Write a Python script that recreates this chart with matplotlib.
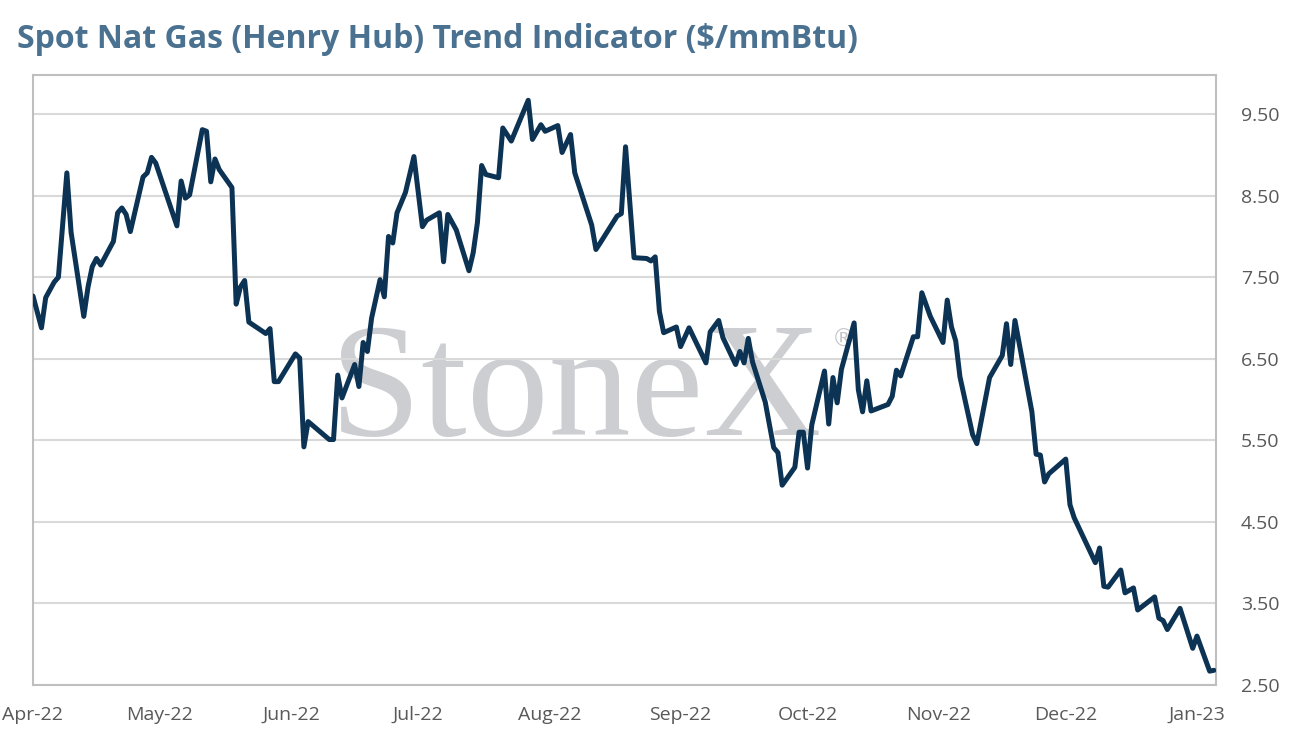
import matplotlib
matplotlib.use("Agg")
import matplotlib.pyplot as plt
import matplotlib.dates as mdates
import pandas as pd

# spot Henry Hub trend indicator ($/mmBtu)
dates = [
    "2022-04-01", "2022-04-03", "2022-04-04", "2022-04-06", "2022-04-07", "2022-04-09",
    "2022-04-10", "2022-04-13", "2022-04-14", "2022-04-15", "2022-04-16", "2022-04-17",
    "2022-04-20", "2022-04-21", "2022-04-22", "2022-04-23", "2022-04-24", "2022-04-27",
    "2022-04-28", "2022-04-29", "2022-04-30", "2022-05-05", "2022-05-06", "2022-05-07",
    "2022-05-08", "2022-05-11", "2022-05-12", "2022-05-13", "2022-05-14", "2022-05-15",
    "2022-05-18", "2022-05-19", "2022-05-20", "2022-05-21", "2022-05-22", "2022-05-26",
    "2022-05-27", "2022-05-28", "2022-05-29", "2022-06-02", "2022-06-03", "2022-06-04",
    "2022-06-05", "2022-06-10", "2022-06-11", "2022-06-12", "2022-06-13", "2022-06-16",
    "2022-06-17", "2022-06-18", "2022-06-19", "2022-06-20", "2022-06-22", "2022-06-23",
    "2022-06-24", "2022-06-25", "2022-06-26", "2022-06-28", "2022-06-30", "2022-07-02",
    "2022-07-03", "2022-07-06", "2022-07-07", "2022-07-08", "2022-07-10", "2022-07-13",
    "2022-07-14", "2022-07-15", "2022-07-16", "2022-07-17", "2022-07-20", "2022-07-21",
    "2022-07-23", "2022-07-27", "2022-07-28", "2022-07-30", "2022-07-31", "2022-08-03",
    "2022-08-04", "2022-08-06", "2022-08-07", "2022-08-11", "2022-08-12", "2022-08-13",
    "2022-08-17", "2022-08-18", "2022-08-19", "2022-08-21", "2022-08-24", "2022-08-25",
    "2022-08-26", "2022-08-27", "2022-08-28", "2022-08-31", "2022-09-01", "2022-09-03",
    "2022-09-07", "2022-09-08", "2022-09-10", "2022-09-11", "2022-09-14", "2022-09-15",
    "2022-09-16", "2022-09-17", "2022-09-18", "2022-09-21", "2022-09-23", "2022-09-24",
    "2022-09-25", "2022-09-28", "2022-09-29", "2022-09-30", "2022-10-01", "2022-10-02",
    "2022-10-05", "2022-10-06", "2022-10-07", "2022-10-08", "2022-10-09", "2022-10-12",
    "2022-10-13", "2022-10-14", "2022-10-15", "2022-10-16", "2022-10-20", "2022-10-21",
    "2022-10-22", "2022-10-23", "2022-10-26", "2022-10-27", "2022-10-28", "2022-10-30",
    "2022-11-02", "2022-11-03", "2022-11-04", "2022-11-05", "2022-11-06", "2022-11-09",
    "2022-11-10", "2022-11-11", "2022-11-13", "2022-11-16", "2022-11-17", "2022-11-18",
    "2022-11-19", "2022-11-23", "2022-11-24", "2022-11-25", "2022-11-26", "2022-11-27",
    "2022-12-01", "2022-12-02", "2022-12-03", "2022-12-08", "2022-12-09", "2022-12-10",
    "2022-12-11", "2022-12-14", "2022-12-15", "2022-12-17", "2022-12-18", "2022-12-22",
    "2022-12-23", "2022-12-24", "2022-12-25", "2022-12-28", "2022-12-31", "2023-01-01",
    "2023-01-04", "2023-01-05",
]
prices = [
    7.27, 6.88, 7.25, 7.44, 7.50, 8.78,
    8.05, 7.02, 7.38, 7.63, 7.73, 7.65,
    7.94, 8.29, 8.35, 8.27, 8.06, 8.73,
    8.78, 8.97, 8.90, 8.13, 8.68, 8.47,
    8.51, 9.31, 9.29, 8.67, 8.95, 8.82,
    8.60, 7.17, 7.38, 7.46, 6.95, 6.81,
    6.87, 6.22, 6.22, 6.56, 6.51, 5.42,
    5.73, 5.51, 5.51, 6.30, 6.02, 6.43,
    6.16, 6.70, 6.59, 7.00, 7.47, 7.26,
    8.00, 7.92, 8.29, 8.54, 8.98, 8.12,
    8.20, 8.29, 7.69, 8.27, 8.08, 7.58,
    7.80, 8.17, 8.87, 8.76, 8.72, 9.33,
    9.17, 9.67, 9.19, 9.37, 9.29, 9.36,
    9.03, 9.25, 8.78, 8.14, 7.84, 7.92,
    8.25, 8.28, 9.10, 7.74, 7.73, 7.70,
    7.75, 7.08, 6.82, 6.89, 6.65, 6.88,
    6.45, 6.83, 6.97, 6.76, 6.43, 6.59,
    6.45, 6.75, 6.46, 5.97, 5.41, 5.35,
    4.95, 5.17, 5.60, 5.60, 5.16, 5.69,
    6.35, 5.70, 6.27, 5.96, 6.37, 6.94,
    6.12, 5.85, 6.23, 5.86, 5.94, 6.04,
    6.36, 6.29, 6.77, 6.77, 7.31, 7.02,
    6.70, 7.22, 6.89, 6.72, 6.28, 5.57,
    5.46, 5.73, 6.27, 6.54, 6.93, 6.43,
    6.97, 5.85, 5.33, 5.32, 4.99, 5.09,
    5.27, 4.71, 4.55, 4.00, 4.18, 3.71,
    3.70, 3.91, 3.63, 3.69, 3.42, 3.58,
    3.32, 3.29, 3.18, 3.44, 2.95, 3.10,
    2.67, 2.68,
]

y_ticks = [2.5, 3.5, 4.5, 5.5, 6.5, 7.5, 8.5, 9.5]

x = pd.to_datetime(dates)

fig = plt.figure(figsize=(12.94, 7.44), dpi=100)
ax = fig.add_axes([33 / 1294, 59 / 744, 1183 / 1294, 610 / 744])

ax.plot(x, prices, color="#0c3354", linewidth=3.6, solid_joinstyle="round",
        solid_capstyle="round", zorder=3)

ax.set_ylim(2.5, 9.98)
ax.set_xlim(pd.Timestamp("2022-04-01"), pd.Timestamp("2023-01-05 12:00"))
ax.set_yticks(y_ticks)
ax.yaxis.tick_right()
ax.yaxis.set_major_formatter(matplotlib.ticker.FormatStrFormatter("%.2f"))
ax.xaxis.set_major_locator(mdates.MonthLocator())
ax.xaxis.set_major_formatter(mdates.DateFormatter("%b-%y"))

ax.grid(axis="y", color="#d9d9d9", linewidth=1.5)
ax.set_axisbelow(True)
ax.tick_params(length=0, labelsize=14, labelcolor="#595959")
ax.tick_params(axis="y", pad=18)
ax.tick_params(axis="x", pad=15)
for lab in ax.get_xticklabels() + ax.get_yticklabels():
    lab.set_family("Open Sans")
for s in ax.spines.values():
    s.set_color("#bfbfbf")
    s.set_linewidth(1.5)

# watermark
ax.text(0.251, 0.41, "StoneX", transform=ax.transAxes, fontsize=118, family="Liberation Serif",
        color="#cdced2", ha="left", va="baseline", zorder=0.1)
ax.text(0.675, 0.555, "\u00ae", transform=ax.transAxes, fontsize=17, family="DejaVu Sans",
        color="#c4c5c9", ha="left", va="baseline", zorder=0.2)

fig.text(17 / 1294, 1 - 40 / 744, "Spot Nat Gas (Henry Hub) Trend Indicator ($/mmBtu)",
         fontsize=23, fontweight="bold", family="Open Sans", color="#4a7190", va="center", ha="left")

fig.savefig("out.png", dpi=100)
